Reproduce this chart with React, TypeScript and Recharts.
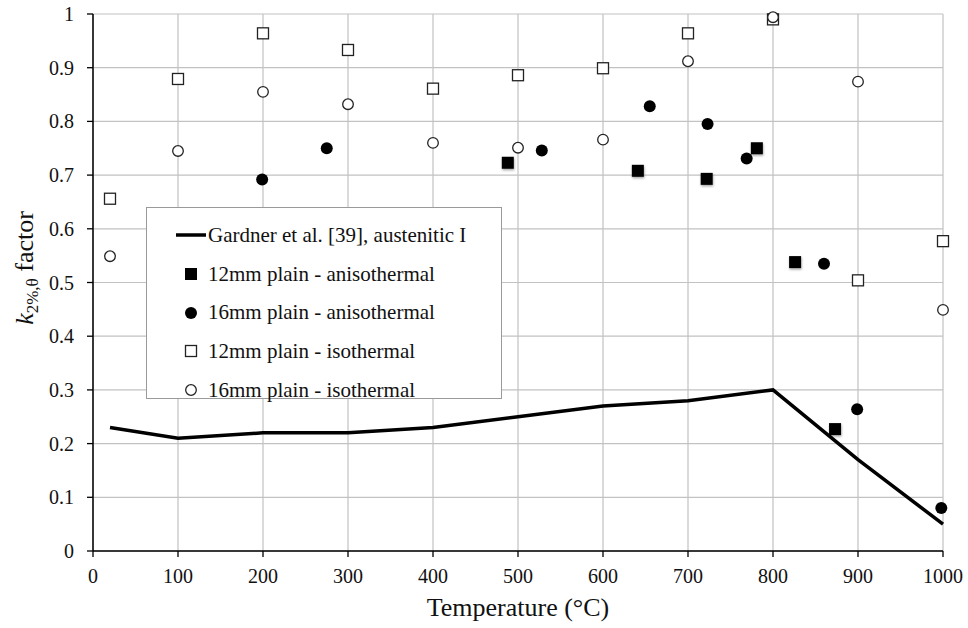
import {
  ComposedChart,
  Line,
  Scatter,
  XAxis,
  YAxis,
  CartesianGrid,
  Legend,
} from 'recharts'

// Gardner et al. design curve, austenitic group I
const gardnerTemp = [20, 100, 200, 300, 400, 500, 600, 700, 800, 900, 1000]
const gardnerK = [0.23, 0.21, 0.22, 0.22, 0.23, 0.25, 0.27, 0.28, 0.30, 0.17, 0.05]

// anisothermal tests
const aniso12Temp = [488, 641, 722, 781, 826, 873]
const aniso12K = [0.723, 0.708, 0.693, 0.75, 0.538, 0.227]
const aniso16Temp = [199, 275, 528, 655, 723, 769, 860, 899, 998]
const aniso16K = [0.692, 0.75, 0.746, 0.828, 0.795, 0.731, 0.535, 0.264, 0.08]

// isothermal tests
const isoTemp = [20, 100, 200, 300, 400, 500, 600, 700, 800, 900, 1000]
const iso12K = [0.656, 0.879, 0.964, 0.933, 0.861, 0.886, 0.899, 0.964, 0.99, 0.504, 0.577]
const iso16K = [0.549, 0.745, 0.855, 0.832, 0.76, 0.751, 0.766, 0.912, 0.994, 0.874, 0.449]

const xTicks = [0, 100, 200, 300, 400, 500, 600, 700, 800, 900, 1000]
const yTicks = [0, 0.1, 0.2, 0.3, 0.4, 0.5, 0.6, 0.7, 0.8, 0.9, 1]

const SERIES_NAMES = {
  gardner: 'Gardner et al. [39], austenitic I',
  aniso12: '12mm plain - anisothermal',
  aniso16: '16mm plain - anisothermal',
  iso12: '12mm plain - isothermal',
  iso16: '16mm plain - isothermal',
}

const FONT = '"Liberation Serif", "Times New Roman", Times, serif'

const zip = (t: number[], k: number[]) => t.map((temp, i) => ({ temp, k: k[i] }))

const gardnerData = zip(gardnerTemp, gardnerK)
const aniso12Data = zip(aniso12Temp, aniso12K)
const aniso16Data = zip(aniso16Temp, aniso16K)
const iso12Data = zip(isoTemp, iso12K)
const iso16Data = zip(isoTemp, iso16K)

const FilledSquare = ({ cx, cy }: any) => (
  <rect x={cx - 6} y={cy - 6} width={12} height={12} fill="#000" filter="url(#markShadow)" />
)
const FilledCircle = ({ cx, cy }: any) => <circle cx={cx} cy={cy} r={6} fill="#000" />
const OpenSquare = ({ cx, cy }: any) => (
  <rect x={cx - 5.5} y={cy - 5.5} width={11} height={11} fill="#fff" stroke="#222" strokeWidth={1.3} />
)
const OpenCircle = ({ cx, cy }: any) => (
  <circle cx={cx} cy={cy} r={5.3} fill="#fff" stroke="#222" strokeWidth={1.3} />
)

// serif tick labels, drawn explicitly so the font is not left to inheritance
const XTick = ({ x, y, payload }: any) => (
  <text x={x} y={y} dy={14} textAnchor="middle" fontFamily={FONT} fontSize={20} fill="#111">
    {payload.value}
  </text>
)
const YTick = ({ x, y, payload }: any) => (
  <text x={x} y={y} dy={7} textAnchor="end" fontFamily={FONT} fontSize={20} fill="#111">
    {payload.value}
  </text>
)

const legendIcon = (kind: string) => {
  switch (kind) {
    case 'gardner':
      return <line x1={0} y1={8} x2={30} y2={8} stroke="#000" strokeWidth={3.5} />
    case 'aniso12':
      return <rect x={9} y={2} width={12} height={12} fill="#000" />
    case 'aniso16':
      return <circle cx={15} cy={8} r={6} fill="#000" />
    case 'iso12':
      return <rect x={9.5} y={2.5} width={11} height={11} fill="#fff" stroke="#222" strokeWidth={1.3} />
    default:
      return <circle cx={15} cy={8} r={5.3} fill="#fff" stroke="#222" strokeWidth={1.3} />
  }
}

const renderLegend = () => (
  <div
    style={{
      width: 356,
      height: 192,
      boxSizing: 'border-box',
      border: '1px solid #9a9a9a',
      background: '#fff',
      padding: '8px 0 0 29px',
      fontFamily: FONT,
      fontSize: 21,
      color: '#111',
    }}
  >
    {Object.entries(SERIES_NAMES).map(([key, name]) => (
      <div key={key} style={{ display: 'flex', alignItems: 'center', height: 38.7 }}>
        <svg width={31} height={16} style={{ marginRight: 1 }}>
          {legendIcon(key)}
        </svg>
        <span style={{ whiteSpace: 'nowrap', fontFamily: FONT }}>{name}</span>
      </div>
    ))}
  </div>
)

const renderYLabel = () => (
  <text
    x={0}
    y={0}
    transform="translate(33, 268) rotate(-90)"
    textAnchor="middle"
    fontFamily={FONT}
    fontSize={26}
    fill="#111"
  >
    <tspan fontStyle="italic">k</tspan>
    <tspan fontSize={17} dy={5}>2%,θ</tspan>
    <tspan dy={-5}> factor</tspan>
  </text>
)

export default function App() {
  return (
    <div
      style={{
        position: 'absolute',
        left: 0,
        top: 0,
        width: 968,
        height: 628,
        background: '#fff',
        fontFamily: FONT,
      }}
    >
      <ComposedChart
        width={968}
        height={628}
        margin={{ top: 14, right: 25, left: 33, bottom: 17 }}
        style={{ fontFamily: FONT }}
      >
        <defs>
          <filter id="markShadow" x="-50%" y="-50%" width="200%" height="200%">
            <feDropShadow dx={0.5} dy={1.5} stdDeviation={1} floodColor="#000" floodOpacity={0.35} />
          </filter>
        </defs>
        <CartesianGrid stroke="#c2c2c2" strokeWidth={1.2} />
        <XAxis
          type="number"
          dataKey="temp"
          domain={[0, 1000]}
          ticks={xTicks}
          height={60}
          tick={<XTick />}
          tickSize={6}
          tickMargin={12}
          axisLine={{ stroke: '#000', strokeWidth: 1.5 }}
          tickLine={{ stroke: '#000', strokeWidth: 1.3 }}
          label={{
            value: 'Temperature (°C)',
            position: 'insideBottom',
            offset: -5,
            fill: '#111',
            fontSize: 26,
            fontFamily: FONT,
          }}
        />
        <YAxis
          type="number"
          dataKey="k"
          domain={[0, 1]}
          ticks={yTicks}
          width={60}
          tick={<YTick />}
          tickSize={6}
          tickMargin={13}
          axisLine={{ stroke: '#000', strokeWidth: 1.5 }}
          tickLine={{ stroke: '#000', strokeWidth: 1.3 }}
          label={{ content: renderYLabel }}
        />
        <Legend
          layout="horizontal"
          verticalAlign="middle"
          align="center"
          content={renderLegend}
          wrapperStyle={{ left: 146, top: 207, width: 356, height: 192 }}
        />
        <Line
          data={gardnerData}
          dataKey="k"
          name={SERIES_NAMES.gardner}
          type="linear"
          stroke="#000"
          strokeWidth={3.5}
          dot={false}
          isAnimationActive={false}
        />
        <Scatter data={iso12Data} dataKey="k" name={SERIES_NAMES.iso12} shape={OpenSquare} isAnimationActive={false} />
        <Scatter data={iso16Data} dataKey="k" name={SERIES_NAMES.iso16} shape={OpenCircle} isAnimationActive={false} />
        <Scatter data={aniso16Data} dataKey="k" name={SERIES_NAMES.aniso16} shape={FilledCircle} isAnimationActive={false} />
        <Scatter data={aniso12Data} dataKey="k" name={SERIES_NAMES.aniso12} shape={FilledSquare} isAnimationActive={false} />
      </ComposedChart>
    </div>
  )
}
